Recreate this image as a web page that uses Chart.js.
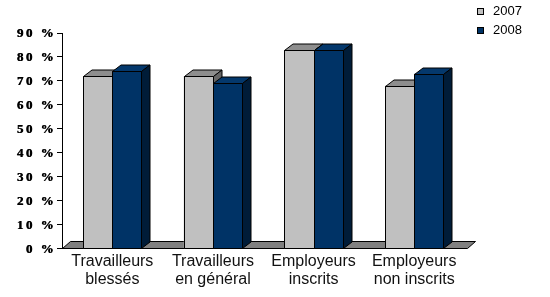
<!DOCTYPE html>
<html>
<head>
<meta charset="utf-8">
<script src="https://cdn.jsdelivr.net/npm/chart.js@4.4.1/dist/chart.umd.min.js"></script>
<style>
  html, body { margin: 0; padding: 0; background: #fff; }
  #wrap { width: 550px; height: 297px; }
</style>
</head>
<body>
<div id="wrap"><canvas id="mycanvas"></canvas></div>
<script>
// data
var categories = [['Travailleurs', 'blessés'], ['Travailleurs', 'en général'], ['Employeurs', 'inscrits'], ['Employeurs', 'non inscrits']];
var seriesLabels = ['2007', '2008'];
var values2007 = [72, 72, 83, 68];
var values2008 = [74, 69, 83, 73];
var yTickValues = [0, 10, 20, 30, 40, 50, 60, 70, 80, 90];

// colours for front / top / side of each series
var faceColors = [
  { front: '#C0C0C0', top: '#8E8E8E', side: '#666666' },
  { front: '#003366', top: '#04386C', side: '#001C38' }
];
var depthX = 8.5, depthY = 6.5;

function poly(ctx, pts, fill) {
  ctx.beginPath();
  ctx.moveTo(pts[0][0], pts[0][1]);
  for (var i = 1; i < pts.length; i++) ctx.lineTo(pts[i][0], pts[i][1]);
  ctx.closePath();
  ctx.fillStyle = fill;
  ctx.fill();
  ctx.stroke();
}

// floor under the bars, then the boxes in front-to-back order
var bars3d = {
  id: 'bars3d',
  beforeDatasetsDraw: function(chart) {
    var ctx = chart.ctx, a = chart.chartArea;
    var b = Math.round(a.bottom) + 0.5, l = Math.round(a.left) + 0.5, r = Math.round(a.right) + 2.5;
    ctx.save();
    ctx.strokeStyle = '#000';
    ctx.lineWidth = 1;
    poly(ctx, [[l, b], [r, b], [r + 8, b - 7], [l + 8, b - 7]], '#808080');
    ctx.restore();
  },
  afterDatasetsDraw: function(chart) {
    var ctx = chart.ctx;
    ctx.save();
    ctx.strokeStyle = '#000';
    ctx.lineWidth = 1;
    var n = chart.data.labels.length;
    for (var i = 0; i < n; i++) {
      for (var d = 0; d < chart.data.datasets.length; d++) {
        var bar = chart.getDatasetMeta(d).data[i];
        var p = bar.getProps(['x', 'y', 'base', 'width'], true);
        var x0 = Math.round(p.x - p.width / 2) + 0.5;
        var x1 = Math.round(p.x + p.width / 2) + 0.5;
        var top = Math.round(p.y) + 0.5;
        var bot = Math.round(p.base) + 0.5;
        var c = faceColors[d];
        poly(ctx, [[x0, bot], [x1, bot], [x1, top], [x0, top]], c.front);
        poly(ctx, [[x0, top], [x1, top], [x1 + depthX, top - depthY], [x0 + depthX, top - depthY]], c.top);
        poly(ctx, [[x1, bot], [x1 + depthX, bot - depthY], [x1 + depthX, top - depthY], [x1, top]], c.side);
      }
    }
    ctx.restore();
  },
  afterDraw: function(chart) {
    var ctx = chart.ctx;
    var ys = chart.scales.y;
    ctx.save();
    // y tick labels, bold serif with wide spacing
    ctx.font = 'bold 13px "Liberation Serif", "Times New Roman", serif';
    ctx.fillStyle = '#000';
    ctx.textAlign = 'right';
    ctx.textBaseline = 'middle';
    ctx.letterSpacing = '2.5px';
    ys.ticks.forEach(function(t) {
      var y = ys.getPixelForValue(t.value) + 1;
      ctx.fillText(t.value + ' %', 56, y);
      ctx.fillText(t.value + ' %', 56.4, y);
    });
    ctx.letterSpacing = '0px';
    // legend
    ctx.textAlign = 'left';
    ctx.font = '13px "Liberation Sans", Arial, sans-serif';
    ctx.lineWidth = 1;
    ctx.strokeStyle = '#000';
    chart.data.datasets.forEach(function(ds, k) {
      var sy = 8 + k * 19;
      ctx.fillStyle = ds.backgroundColor;
      ctx.fillRect(477.5, sy + 0.5, 6, 6);
      ctx.strokeRect(477.5, sy + 0.5, 6, 6);
      ctx.fillStyle = '#000';
      ctx.fillText(ds.label, 493, sy + 3.5);
    });
    ctx.restore();
  }
};

var chartdata = {
  labels: categories,
  datasets: [
    { label: seriesLabels[0], data: values2007, backgroundColor: '#C0C0C0' },
    { label: seriesLabels[1], data: values2008, backgroundColor: '#003366' }
  ]
};

var ctx = document.getElementById('mycanvas');
var barGraph = new Chart(ctx, {
  type: 'bar',
  data: chartdata,
  plugins: [bars3d],
  options: {
    responsive: true,
    maintainAspectRatio: false,
    animation: false,
    events: [],
    layout: { padding: { left: 57, right: 85.5, top: 33, bottom: 4 } },
    plugins: { legend: { display: false }, tooltip: { enabled: false } },
    datasets: { bar: { categoryPercentage: 0.58, barPercentage: 1.0 } },
    scales: {
      x: {
        grid: { display: false, drawTicks: false },
        border: { display: false },
        ticks: {
          autoSkip: false,
          maxRotation: 0,
          padding: 4,
          color: '#111',
          font: { family: '"Liberation Sans", Arial, sans-serif', size: 16, lineHeight: 1.15 }
        }
      },
      y: {
        min: 0,
        max: 90,
        afterBuildTicks: function(scale) {
          scale.ticks = yTickValues.map(function(v) { return { value: v }; });
        },
        grid: { drawOnChartArea: false, drawTicks: true, tickLength: 5, color: '#000' },
        border: { display: true, color: '#000', width: 1 },
        ticks: { display: false }
      }
    }
  }
});
</script>
</body>
</html>
